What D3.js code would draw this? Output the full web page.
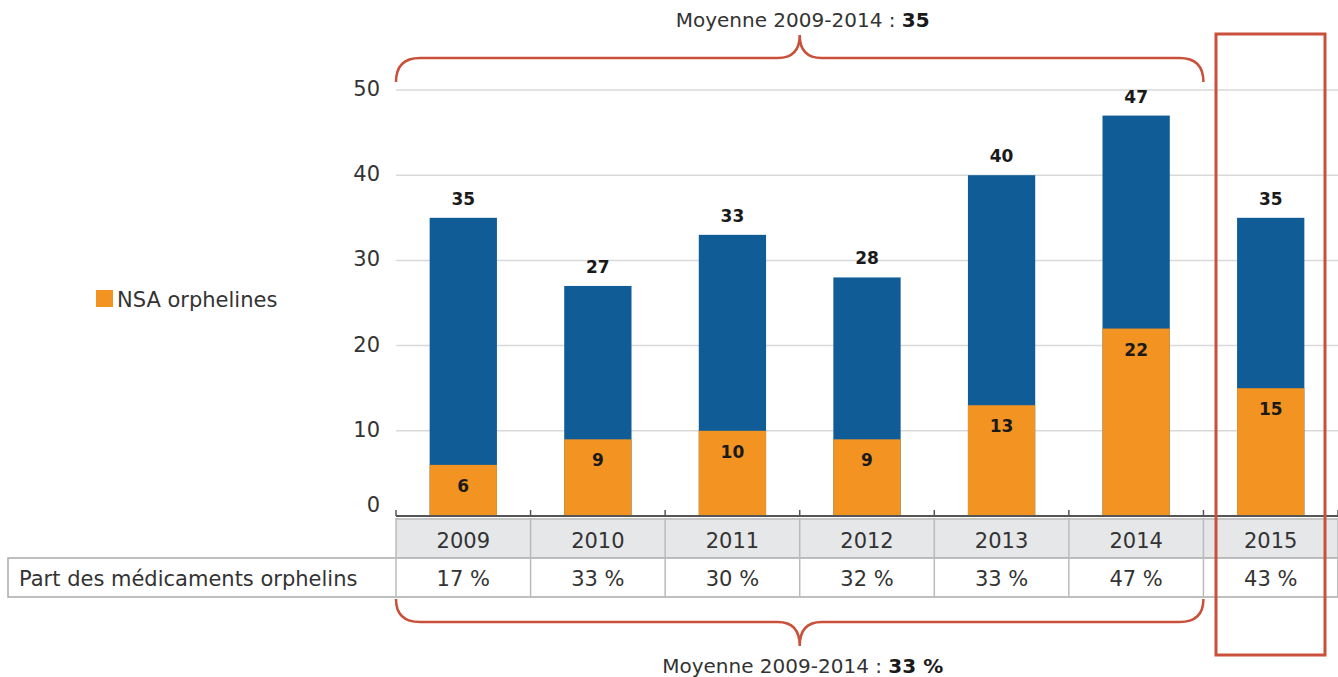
<!DOCTYPE html>
<html>
<head>
<meta charset="utf-8">
<script src="https://cdn.jsdelivr.net/npm/d3@7"></script>
<style>
  body { margin: 0; background: #fff; }
  text { font-family: "DejaVu Sans", sans-serif; fill: #333; }
  .num { font-weight: bold; fill: #1a1a1a; }
</style>
</head>
<body>
<div id="chart"></div>
<script>
const years = ["2009", "2010", "2011", "2012", "2013", "2014", "2015"];
const totals = [35, 27, 33, 28, 40, 47, 35];
const orphans = [6, 9, 10, 9, 13, 22, 15];
const shares = ["17 %", "33 %", "30 %", "32 %", "33 %", "47 %", "43 %"];
const yTicks = [0, 10, 20, 30, 40, 50];

const W = 1338, H = 677;
const blue = "#0f5c97", orange = "#f39322", red = "#c9503a";
const fs = 21;

const svg = d3.select("#chart").append("svg")
    .attr("width", W)
    .attr("height", H);

const x = d3.scaleBand().domain(years).range([396, 1338]).paddingInner(0.5).paddingOuter(0.25);
const y = d3.scaleLinear().domain([0, 50]).range([516, 90]);
const step = x.step();
const mid = d => x(d) + x.bandwidth() / 2;

// gridlines
svg.append("g").selectAll("line")
    .data(yTicks.filter(t => t > 0))
    .enter().append("line")
    .attr("x1", 396).attr("x2", 1338)
    .attr("y1", d => y(d)).attr("y2", d => y(d))
    .attr("stroke", "#d9d9d9").attr("stroke-width", 1.5);

// y tick labels
svg.append("g").selectAll("text")
    .data(yTicks)
    .enter().append("text")
    .attr("x", 380).attr("y", d => d === 0 ? y(d) - 4 : y(d) + 6)
    .attr("text-anchor", "end")
    .attr("font-size", fs)
    .text(d => d);

// bars: total (blue) then orphan (orange)
const bars = svg.append("g").selectAll("g")
    .data(years)
    .enter().append("g");

bars.append("rect")
    .attr("x", d => x(d)).attr("width", x.bandwidth())
    .attr("y", (d, i) => y(totals[i]))
    .attr("height", (d, i) => y(0) - y(totals[i]))
    .attr("fill", blue);

bars.append("rect")
    .attr("x", d => x(d)).attr("width", x.bandwidth())
    .attr("y", (d, i) => y(orphans[i]))
    .attr("height", (d, i) => y(0) - y(orphans[i]))
    .attr("fill", orange);

bars.append("text")
    .attr("class", "num")
    .attr("x", mid)
    .attr("y", (d, i) => y(totals[i]) - 13)
    .attr("text-anchor", "middle")
    .attr("font-size", 17)
    .text((d, i) => totals[i]);

bars.append("text")
    .attr("class", "num")
    .attr("x", mid)
    .attr("y", (d, i) => y(orphans[i]) + 27)
    .attr("text-anchor", "middle")
    .attr("font-size", 17)
    .text((d, i) => orphans[i]);

// table
const rowH = 40, top1 = 518, top2 = 558;
const table = svg.append("g");
table.append("rect")
    .attr("x", 396).attr("y", top1).attr("width", 1338 - 396).attr("height", rowH)
    .attr("fill", "#e6e7e9");
table.append("rect")
    .attr("x", 8).attr("y", top2).attr("width", 1338 - 8).attr("height", rowH - 1)
    .attr("fill", "#fff").attr("stroke", "#aaa").attr("stroke-width", 1.5);
table.append("line")
    .attr("x1", 396).attr("x2", 1338).attr("y1", top1 + 1).attr("y2", top1 + 1)
    .attr("stroke", "#bbb").attr("stroke-width", 1.5);
table.selectAll(".sep")
    .data(years.concat(["end"]))
    .enter().append("line")
    .attr("x1", (d, i) => 396 + i * step).attr("x2", (d, i) => 396 + i * step)
    .attr("y1", top1).attr("y2", top2 + rowH - 1)
    .attr("stroke", "#bbb").attr("stroke-width", 1.5);

table.selectAll(".yr")
    .data(years)
    .enter().append("text")
    .attr("x", mid)
    .attr("y", top1 + 30)
    .attr("text-anchor", "middle")
    .attr("font-size", fs)
    .text(d => d);

table.selectAll(".sh")
    .data(shares)
    .enter().append("text")
    .attr("x", (d, i) => mid(years[i]))
    .attr("y", top2 + 28)
    .attr("text-anchor", "middle")
    .attr("font-size", fs)
    .text(d => d);

table.append("text")
    .attr("x", 19).attr("y", top2 + 28)
    .attr("font-size", fs)
    .text("Part des médicaments orphelins");

// x axis baseline with small ticks
svg.append("line")
    .attr("x1", 396).attr("x2", 1338).attr("y1", y(0)).attr("y2", y(0))
    .attr("stroke", "#555").attr("stroke-width", 2);
svg.append("g").selectAll("line")
    .data(years.concat(["end"]))
    .enter().append("line")
    .attr("x1", (d, i) => 396 + i * step).attr("x2", (d, i) => 396 + i * step)
    .attr("y1", y(0) - 6).attr("y2", y(0))
    .attr("stroke", "#555").attr("stroke-width", 1.5);

// braces for 2009-2014
const bx0 = 396, bx1 = 396 + 6 * step, bmid = (bx0 + bx1) / 2;
function brace(yEnd, yBar, yTip) {
    const r = 24;
    return `M${bx0},${yEnd} Q${bx0},${yBar} ${bx0 + r},${yBar}` +
        ` L${bmid - 22},${yBar} Q${bmid},${yBar} ${bmid},${yTip}` +
        ` Q${bmid},${yBar} ${bmid + 22},${yBar}` +
        ` L${bx1 - r},${yBar} Q${bx1},${yBar} ${bx1},${yEnd}`;
}
svg.append("path").attr("d", brace(82, 58, 35))
    .attr("fill", "none").attr("stroke", red).attr("stroke-width", 2.5);
svg.append("path").attr("d", brace(599, 622, 646))
    .attr("fill", "none").attr("stroke", red).attr("stroke-width", 2.5);

const t1 = svg.append("text").attr("x", bmid + 3).attr("y", 27)
    .attr("text-anchor", "middle").attr("font-size", fs - 1);
t1.append("tspan").text("Moyenne 2009-2014 : ");
t1.append("tspan").attr("font-weight", "bold").attr("fill", "#1a1a1a").text("35");

const t2 = svg.append("text").attr("x", bmid + 3).attr("y", 673)
    .attr("text-anchor", "middle").attr("font-size", fs - 1);
t2.append("tspan").text("Moyenne 2009-2014 : ");
t2.append("tspan").attr("font-weight", "bold").attr("fill", "#1a1a1a").text("33 %");

// highlight box for 2015
svg.append("rect")
    .attr("x", 1216).attr("y", 34).attr("width", 1325 - 1216).attr("height", 655 - 34)
    .attr("fill", "none").attr("stroke", red).attr("stroke-width", 3);

// legend
svg.append("rect").attr("x", 96).attr("y", 290).attr("width", 17).attr("height", 17).attr("fill", orange);
svg.append("text").attr("x", 117).attr("y", 307).attr("font-size", fs).text("NSA orphelines");
</script>
</body>
</html>
